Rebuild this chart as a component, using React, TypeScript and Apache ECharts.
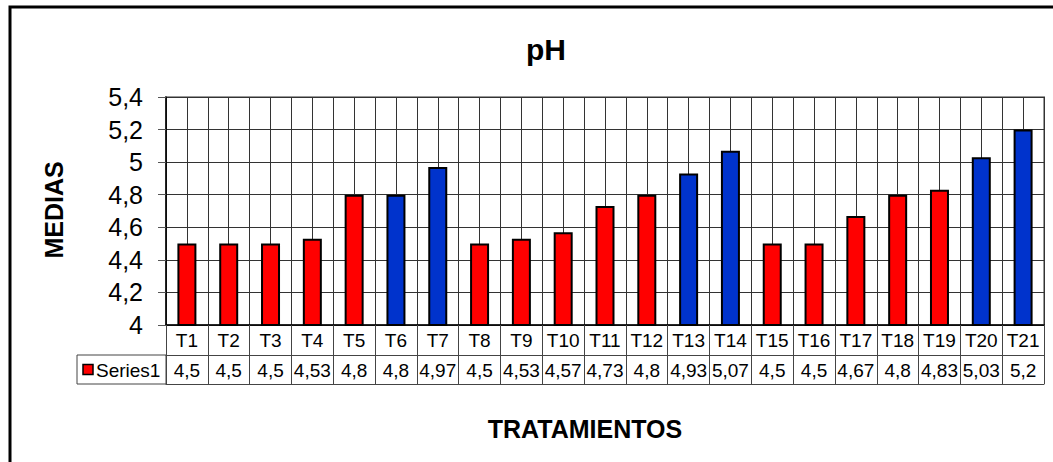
import React, { useEffect, useRef } from "react";
import * as echarts from "echarts";

const categories = ["T1","T2","T3","T4","T5","T6","T7","T8","T9","T10","T11","T12","T13","T14","T15","T16","T17","T18","T19","T20","T21"];
const values = [4.5,4.5,4.5,4.53,4.8,4.8,4.97,4.5,4.53,4.57,4.73,4.8,4.93,5.07,4.5,4.5,4.67,4.8,4.83,5.03,5.2];
const blueSet = ["T6","T7","T13","T14","T20","T21"];
const seriesName = "Series1";
const titleText = "pH";
const yTitle = "MEDIAS";
const xTitle = "TRATAMIENTOS";
const RED = "#FF0000";
const BLUE = "#0033CC";
const FONT = "Liberation Sans, Arial, sans-serif";

const fmt = (v: number) => Number(v.toFixed(2)).toString().replace(".", ",");

export default function App() {
  const ref = useRef<HTMLDivElement>(null);
  useEffect(() => {
    if (!ref.current) return;
    const chart = echarts.init(ref.current, null, { renderer: "svg" });
    const gl = 166, gr = 9, gt = 97, gb = 137;
    const H = 462;
    const axisY = H - gb;
    chart.setOption({
      animation: false,
      backgroundColor: "#fff",
      textStyle: { fontFamily: FONT },
      grid: { left: gl, right: gr, top: gt, bottom: gb, show: true, borderColor: "#999", borderWidth: 2, backgroundColor: "transparent" },
      xAxis: [
        {
          type: "category", data: categories, position: "bottom",
          axisLine: { show: true, lineStyle: { color: "#000", width: 1.5 } },
          axisTick: { show: true, length: 59, interval: 0, lineStyle: { color: "#444", width: 1 } },
          axisLabel: { fontSize: 19, color: "#000", margin: 6, interval: 0, fontFamily: FONT },
          splitLine: { show: true, interval: 0, lineStyle: { color: "#333", width: 1 } },
        },
        {
          type: "category", data: values.map(fmt), position: "bottom", offset: 30,
          axisLine: { show: true, lineStyle: { color: "#444", width: 1 } },
          axisTick: { show: false },
          axisLabel: { fontSize: 19, color: "#000", margin: 6, interval: 0, fontFamily: FONT },
          splitLine: { show: false },
        },
        {
          type: "category", data: categories, position: "bottom", offset: 59,
          axisLine: { show: true, lineStyle: { color: "#444", width: 1 } },
          axisTick: { show: false },
          axisLabel: { show: false },
          splitLine: { show: false },
        },
        {
          type: "value", min: 0, max: categories.length * 2, interval: 1, position: "top",
          axisLine: { show: false }, axisTick: { show: false }, axisLabel: { show: false },
          splitLine: { show: true, lineStyle: { color: "#333", width: 1 } },
        },
      ],
      yAxis: {
        type: "value", min: 4, max: 5.4, interval: 0.2,
        axisLine: { show: true, lineStyle: { color: "#000", width: 1.5 } },
        axisTick: { show: true, length: 8, lineStyle: { color: "#555" } },
        axisLabel: { fontSize: 25, color: "#000", margin: 23, fontFamily: FONT, formatter: (v: number) => fmt(v) },
        splitLine: { show: true, lineStyle: { color: "#333", width: 1 } },
      },
      series: [
        {
          name: seriesName, type: "bar", xAxisIndex: 0, barWidth: 19,
          data: values.map((v, i) => ({
            value: v,
            itemStyle: { color: blueSet.includes(categories[i]) ? BLUE : RED, borderColor: "#000", borderWidth: 2 },
          })),
        },
      ],
      graphic: [
        { type: "rect", shape: { x: 10, y: 7, width: 1080, height: 500 }, style: { fill: "none", stroke: "#000", lineWidth: 3 }, silent: true },
        { type: "rect", shape: { x: 77, y: axisY + 30, width: gl - 77, height: 29 }, style: { fill: "none", stroke: "#444", lineWidth: 1 }, silent: true },
        { type: "rect", shape: { x: 83, y: axisY + 39.5, width: 10, height: 10 }, style: { fill: RED, stroke: "#000", lineWidth: 1.5 }, silent: true },
        { type: "text", x: 96, y: axisY + 45, style: { text: seriesName, fontSize: 19, fill: "#000", fontFamily: FONT, align: "left", verticalAlign: "middle" } },
        { type: "text", x: 546, y: 49, style: { text: titleText, fontSize: 30, fontWeight: "bold", fill: "#000", fontFamily: FONT, align: "center", verticalAlign: "middle" } },
        { type: "text", x: 54, y: 210, rotation: Math.PI / 2, style: { text: yTitle, fontSize: 25, fontWeight: "bold", fill: "#000", fontFamily: FONT, align: "center", verticalAlign: "middle" } },
        { type: "text", x: 585, y: 429, style: { text: xTitle, fontSize: 25, fontWeight: "bold", fill: "#000", fontFamily: FONT, align: "center", verticalAlign: "middle" } },
      ],
    });
    return () => chart.dispose();
  }, []);
  return <div ref={ref} style={{ position: "fixed", left: 0, top: 0, width: 1053, height: 462 }} />;
}
